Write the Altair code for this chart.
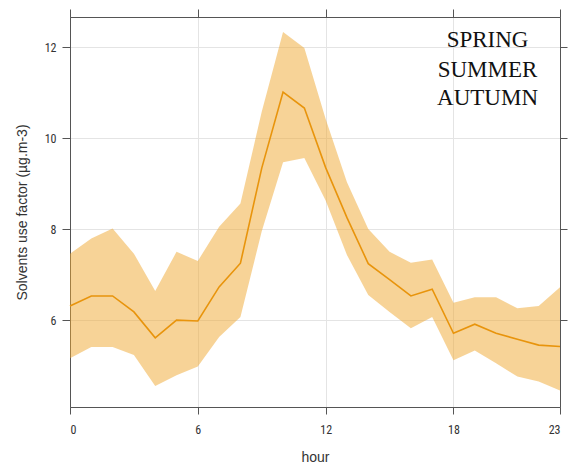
import altair as alt
import pandas as pd

hours = list(range(24))
mean_vals = [6.31, 6.53, 6.53, 6.18, 5.61, 6.00, 5.98, 6.73, 7.25, 9.34, 11.01, 10.66,
             9.35, 8.25, 7.24, 6.89, 6.53, 6.68, 5.71, 5.91, 5.71, 5.58, 5.45, 5.42]
upper_vals = [7.46, 7.79, 8.01, 7.46, 6.64, 7.50, 7.30, 8.05, 8.56, 10.58, 12.33, 11.98,
              10.42, 9.03, 8.00, 7.50, 7.26, 7.33, 6.38, 6.50, 6.50, 6.26, 6.31, 6.72]
lower_vals = [5.16, 5.41, 5.41, 5.23, 4.55, 4.79, 4.98, 5.63, 6.07, 7.95, 9.47, 9.56,
              8.63, 7.43, 6.55, 6.18, 5.82, 6.07, 5.12, 5.33, 5.05, 4.76, 4.65, 4.45]

x_ticks = [0, 6, 12, 18, 23]
y_ticks = [6, 8, 10, 12]
x_domain = [0, 23]
y_domain = [4.09, 12.66]

season_labels = ["SPRING", "SUMMER", "AUTUMN"]
season_hour = [19.6, 19.6, 19.6]
season_y = [12.15, 11.49, 10.87]

df = pd.DataFrame({"hour": hours, "mean": mean_vals, "upper": upper_vals, "lower": lower_vals})
txt = pd.DataFrame({"label": season_labels, "hour": season_hour, "y": season_y})

xs = alt.Scale(domain=x_domain, nice=False, zero=False)
ys = alt.Scale(domain=y_domain, nice=False, zero=False)

label_font = "Liberation Sans Narrow, Roboto Condensed, Liberation Sans, sans-serif"

band = alt.Chart(df).mark_area(color="#F0A830", opacity=0.5).encode(
    x=alt.X("hour:Q", scale=xs,
            axis=alt.Axis(values=x_ticks, title="hour", grid=True, gridColor="#e4e4e4",
                          domainColor="#555555", tickColor="#555555", tickSize=7,
                          labelPadding=10, titlePadding=15, labelFont=label_font,
                          labelFontSize=12, labelColor="#333333", titleFont="Liberation Sans",
                          titleFontSize=14, titleFontWeight="normal", titleColor="#333333")),
    y=alt.Y("lower:Q", scale=ys,
            axis=alt.Axis(values=y_ticks, title="Solvents use factor (µg.m-3)", grid=True,
                          gridColor="#e4e4e4", domainColor="#555555", tickColor="#555555",
                          tickSize=8, labelPadding=6, titlePadding=15, labelFont=label_font,
                          labelFontSize=12, labelColor="#333333", titleFont="Liberation Sans",
                          titleFontSize=14, titleFontWeight="normal", titleColor="#333333")),
    y2="upper:Q",
)

line = alt.Chart(df).mark_line(color="#E8940C", strokeWidth=1.6).encode(
    x=alt.X("hour:Q", scale=xs),
    y=alt.Y("mean:Q", scale=ys),
)

text = alt.Chart(txt).mark_text(font="Liberation Serif", fontSize=23, color="#111111",
                                align="center", baseline="middle").encode(
    x=alt.X("hour:Q", scale=xs),
    y=alt.Y("y:Q", scale=ys),
    text="label:N",
)

inner = alt.layer(band, line, text)

frame = alt.Chart(df).mark_point(opacity=0).encode(
    x=alt.X("hour:Q", scale=xs,
            axis=alt.Axis(orient="top", values=x_ticks, labels=False, title=None, grid=False,
                          domainColor="#555555", tickColor="#555555", tickSize=8)),
    y=alt.Y("mean:Q", scale=ys,
            axis=alt.Axis(orient="right", values=y_ticks, labels=False, title=None, grid=False,
                          domainColor="#555555", tickColor="#555555", tickSize=7)),
)

chart = alt.layer(inner, frame).resolve_scale(x="independent", y="independent").properties(
    width=490, height=390,
    padding={"left": 7, "top": 0, "right": 5, "bottom": 5},
).configure_view(stroke="#555555")

chart.save("out.html", embed_options={"renderer": "svg", "actions": False})
